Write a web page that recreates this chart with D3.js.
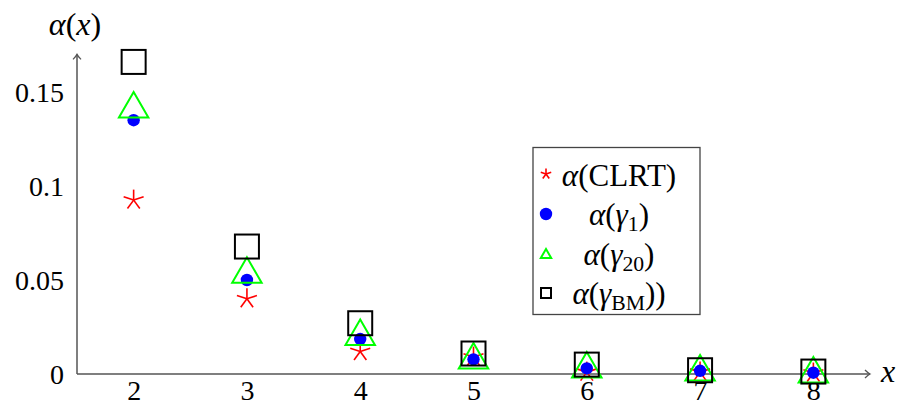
<!DOCTYPE html>
<html>
<head>
<meta charset="utf-8">
<script src="https://cdn.jsdelivr.net/npm/d3@7/dist/d3.min.js"></script>
<style>
  html, body { margin: 0; padding: 0; background: #fff; }
  svg { display: block; }
  text { font-family: "Liberation Serif", "DejaVu Serif", serif; fill: #000; }
</style>
</head>
<body>
<svg id="chart" width="898" height="406"></svg>
<script>
const categories = [2, 3, 4, 5, 6, 7, 8];
const clrt    = [0.0925, 0.040, 0.012, 0.009, 0.001, 0.001, 0.0005];
const gamma1  = [0.135, 0.050, 0.0186, 0.0078, 0.003, 0.0017, 0.0007];
const gamma20 = [0.141, 0.053, 0.020, 0.0074, 0.0027, 0.001, 0.0];
const gammaBM = [0.166, 0.0678, 0.027, 0.0109, 0.005, 0.002, 0.0013];
const yTicks = [0, 0.05, 0.1, 0.15];
const yTickLabels = ["0", "0.05", "0.1", "0.15"];
const xTicks = [2, 3, 4, 5, 6, 7, 8];
const xTickLabels = ["2", "3", "4", "5", "6", "7", "8"];

const svg = d3.select("#chart");
const x = d3.scaleLinear().domain([1.5, 8.5]).range([77, 870]);
const y = d3.scaleLinear().domain([0, 0.17]).range([374, 54.4]);

const axisColor = "#555";
const FS = 28;
const SERIF = '"Liberation Serif", "DejaVu Serif", serif';

// Axes
const gx = svg.append("g").attr("transform", `translate(0,${y(0)})`)
  .call(d3.axisBottom(x).tickValues(xTicks).tickSize(0).tickPadding(0)
    .tickFormat((d, i) => xTickLabels[i]));
gx.attr("font-family", null).attr("font-size", null);
gx.select(".domain").remove();
gx.selectAll("text").style("font-family", SERIF).style("font-size", FS + "px")
  .attr("y", 0).attr("dy", null).attr("dominant-baseline", "alphabetic").attr("transform", "translate(0,25.5)");

const gy = svg.append("g").attr("transform", `translate(${x(1.5)},0)`)
  .call(d3.axisLeft(y).tickValues(yTicks).tickSize(0).tickPadding(13)
    .tickFormat((d, i) => yTickLabels[i]));
gy.attr("font-family", null).attr("font-size", null);
gy.select(".domain").remove();
gy.selectAll("text").style("font-family", SERIF).style("font-size", FS + "px").attr("dy", "0.35em");

// axis lines with arrows
svg.append("line").attr("x1", x(1.5)).attr("x2", x(8.5)).attr("y1", y(0)).attr("y2", y(0))
  .attr("stroke", axisColor).attr("stroke-width", 1.5);
svg.append("line").attr("x1", x(1.5)).attr("x2", x(1.5)).attr("y1", y(0)).attr("y2", y(0.17))
  .attr("stroke", axisColor).attr("stroke-width", 1.5);
svg.append("path").attr("d", `M${x(8.5)-5},${y(0)-4} Q${x(8.5)-2},${y(0)-1} ${x(8.5)},${y(0)} Q${x(8.5)-2},${y(0)+1} ${x(8.5)-5},${y(0)+4}`)
  .attr("fill", "none").attr("stroke", axisColor).attr("stroke-width", 1.3);
svg.append("path").attr("d", `M${x(1.5)-4},${y(0.17)+5} Q${x(1.5)-1},${y(0.17)+2} ${x(1.5)},${y(0.17)} Q${x(1.5)+1},${y(0.17)+2} ${x(1.5)+4},${y(0.17)+5}`)
  .attr("fill", "none").attr("stroke", axisColor).attr("stroke-width", 1.3);

// axis labels
const yl = svg.append("text").attr("x", 75).attr("y", 35).attr("text-anchor", "middle").style("font-size", "32px");
yl.append("tspan").attr("font-style", "italic").text("α");
yl.append("tspan").text("(");
yl.append("tspan").attr("font-style", "italic").text("x");
yl.append("tspan").text(")");
svg.append("text").attr("x", 888).attr("y", y(0) + 8).attr("text-anchor", "middle")
  .style("font-size", "32px").attr("font-style", "italic").text("x");

// marker drawers
function star(g, cx, cy, r) {
  for (let k = 0; k < 5; k++) {
    const a = -Math.PI / 2 + k * 2 * Math.PI / 5;
    g.append("line").attr("x1", cx).attr("y1", cy)
      .attr("x2", cx + r * Math.cos(a)).attr("y2", cy + r * Math.sin(a))
      .attr("stroke", "#ff0000").attr("stroke-width", 1.6);
  }
}
function circle(g, cx, cy, r) {
  g.append("circle").attr("cx", cx).attr("cy", cy).attr("r", r).attr("fill", "#0000ff");
}
function tri(g, cx, cy, r, sw) {
  const pts = [[0, -r], [-0.866 * r, 0.5 * r], [0.866 * r, 0.5 * r]]
    .map(p => [cx + p[0], cy + p[1]].join(",")).join(" ");
  g.append("polygon").attr("points", pts).attr("fill", "none").attr("stroke", "#00ff00").attr("stroke-width", sw);
}
function square(g, cx, cy, h, sw) {
  g.append("rect").attr("x", cx - h).attr("y", cy - h).attr("width", 2 * h).attr("height", 2 * h)
    .attr("fill", "none").attr("stroke", "#000").attr("stroke-width", sw);
}

const marks = svg.append("g");
categories.forEach((c, i) => star(marks, x(c), y(clrt[i]), 10.5));
categories.forEach((c, i) => circle(marks, x(c), y(gamma1[i]), 6.2));
categories.forEach((c, i) => tri(marks, x(c), y(gamma20[i]), 17, 2));
categories.forEach((c, i) => square(marks, x(c), y(gammaBM[i]), 12, 2));

// legend
const lg = svg.append("g");
lg.append("rect").attr("x", 533).attr("y", 147.5).attr("width", 167).attr("height", 167)
  .attr("fill", "#fff").attr("stroke", "#444").attr("stroke-width", 1.3);
const rowsY = [175, 214, 254, 293];
const tx = 619;
const LFS = 31;
star(lg, 546, rowsY[0] - 1, 5.5);
circle(lg, 546, rowsY[1], 6.2);
tri(lg, 546, rowsY[2] + 1, 6, 2);
square(lg, 546, rowsY[3], 5, 2);

function legendText(yy, parts) {
  const t = lg.append("text").attr("x", tx).attr("y", yy).attr("dy", "0.35em")
    .attr("text-anchor", "middle").style("font-size", LFS + "px");
  parts.forEach(p => {
    const s = t.append("tspan").text(p.t);
    if (p.it) s.attr("font-style", "italic");
    if (p.sub) s.style("font-size", (LFS * 0.7) + "px").attr("dy", "0.3em");
    if (p.up) s.attr("dy", "-0.21em");
  });
}
legendText(rowsY[0], [{t: "α", it: 1}, {t: "(CLRT)"}]);
legendText(rowsY[1], [{t: "α", it: 1}, {t: "("}, {t: "γ", it: 1}, {t: "1", sub: 1}, {t: ")", up: 1}]);
legendText(rowsY[2], [{t: "α", it: 1}, {t: "("}, {t: "γ", it: 1}, {t: "20", sub: 1}, {t: ")", up: 1}]);
legendText(rowsY[3], [{t: "α", it: 1}, {t: "("}, {t: "γ", it: 1}, {t: "BM", sub: 1}, {t: "))", up: 1}]);
</script>
</body>
</html>
